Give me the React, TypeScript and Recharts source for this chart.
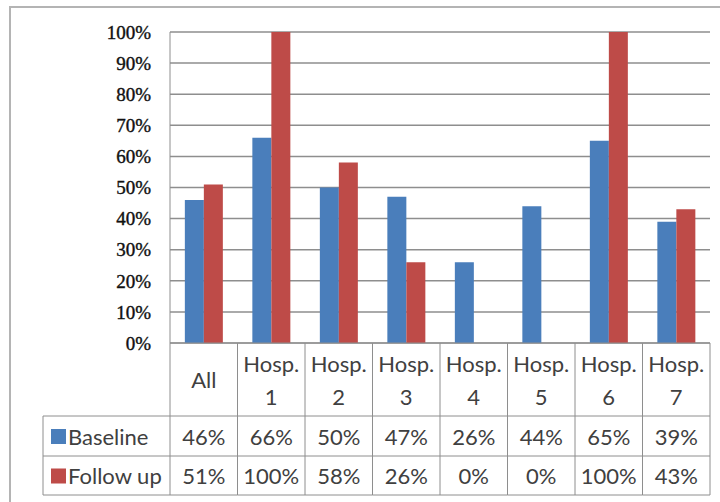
import { Bar, BarChart, CartesianGrid, XAxis, YAxis } from "recharts";

const CATEGORIES = ["All", "Hosp.\n1", "Hosp.\n2", "Hosp.\n3", "Hosp.\n4", "Hosp.\n5", "Hosp.\n6", "Hosp.\n7"];
const BASELINE = [46, 66, 50, 47, 26, 44, 65, 39];
const FOLLOW_UP = [51, 100, 58, 26, 0, 0, 100, 43];
const Y_TICKS = [0, 10, 20, 30, 40, 50, 60, 70, 80, 90, 100];

const BLUE = "#4a7ebb";
const RED = "#be4b48";
const LINE = "#8e8e8e";
const TEXT = "#404040";
const TABLE_FONT = "Lato, 'Open Sans', sans-serif";

const W = 720;
const H = 502;
const MARGIN = { top: 32, right: 10, left: 0, bottom: 7 };
const Y_AXIS_W = 170;
const X_AXIS_H = 152;
const PLOT_W = W - MARGIN.left - MARGIN.right - Y_AXIS_W;
const HEAD_H = 73;
const ROW1_H = 40;
const LEGEND_W = 127;

const data = CATEGORIES.map((name, i) => ({
  name,
  baseline: BASELINE[i],
  followUp: FOLLOW_UP[i],
}));

function TableTick(props: any) {
  const { x, y, payload, index } = props;
  const bw = PLOT_W / CATEGORIES.length;
  const x0 = x - bw / 2;
  const x1 = x + bw / 2;
  const r1 = y + HEAD_H;
  const r2 = r1 + ROW1_H;
  const r3 = y + X_AXIS_H;
  const lines = String(payload.value).split("\n");
  const i = index as number;
  const textProps = {
    fontFamily: TABLE_FONT,
    fontSize: 22,
    fill: TEXT,
    textAnchor: "middle" as const,
    dominantBaseline: "central" as const,
  };

  return (
    <g>
      {i === 0 && (
        <g>
          <line x1={x0} y1={y} x2={x0} y2={r3} stroke={LINE} />
          <line x1={x0 - LEGEND_W} y1={r1} x2={x0} y2={r1} stroke={LINE} />
          <line x1={x0 - LEGEND_W} y1={r2} x2={x0} y2={r2} stroke={LINE} />
          <line x1={x0 - LEGEND_W} y1={r3} x2={x0} y2={r3} stroke={LINE} />
          <line x1={x0 - LEGEND_W} y1={r1} x2={x0 - LEGEND_W} y2={r3} stroke={LINE} />
          <rect x={x0 - LEGEND_W + 8} y={(r1 + r2) / 2 - 7} width={15} height={15} fill={BLUE} />
          <rect x={x0 - LEGEND_W + 8} y={(r2 + r3) / 2 - 7} width={15} height={15} fill={RED} />
          <text {...textProps} textAnchor="start" x={x0 - LEGEND_W + 25} y={(r1 + r2) / 2}>
            Baseline
          </text>
          <text {...textProps} textAnchor="start" x={x0 - LEGEND_W + 25} y={(r2 + r3) / 2}>
            Follow up
          </text>
        </g>
      )}
      <line x1={x1} y1={y} x2={x1} y2={r3} stroke={LINE} />
      <line x1={x0} y1={r1} x2={x1} y2={r1} stroke={LINE} />
      <line x1={x0} y1={r2} x2={x1} y2={r2} stroke={LINE} />
      <line x1={x0} y1={r3} x2={x1} y2={r3} stroke={LINE} />
      {lines.length === 1 ? (
        <text {...textProps} x={x} y={y + HEAD_H / 2}>
          {lines[0]}
        </text>
      ) : (
        lines.map((t, k) => (
          <text key={k} {...textProps} x={x} y={y + 20 + k * 33}>
            {t}
          </text>
        ))
      )}
      <text {...textProps} x={x} y={(r1 + r2) / 2}>
        {`${BASELINE[i]}%`}
      </text>
      <text {...textProps} x={x} y={(r2 + r3) / 2}>
        {`${FOLLOW_UP[i]}%`}
      </text>
    </g>
  );
}

export default function App() {
  return (
    <div
      style={{
        position: "fixed",
        left: 0,
        top: 0,
        width: W,
        height: H,
        background: "#fff",
      }}
    >
      <div
        style={{
          position: "absolute",
          left: 9,
          top: 6,
          width: W,
          height: H,
          border: "2px solid #b4b4b4",
        }}
      />
      <div style={{ position: "absolute", left: 0, top: 0 }}>
        <BarChart
          width={W}
          height={H}
          data={data}
          margin={MARGIN}
          barCategoryGap="22%"
          barGap={0}
        >
          <CartesianGrid vertical={false} stroke={LINE} strokeWidth={1.5} />
          <XAxis
            dataKey="name"
            height={X_AXIS_H}
            axisLine={{ stroke: LINE }}
            tickLine={false}
            tickSize={0}
            tickMargin={0}
            interval={0}
            tick={<TableTick />}
          />
          <YAxis
            width={Y_AXIS_W}
            domain={[0, 100]}
            ticks={Y_TICKS}
            tickFormatter={(v) => `${v}%`}
            axisLine={{ stroke: LINE }}
            tickLine={false}
            tickSize={0}
            tickMargin={19}
            tick={{
              fontFamily: "'Liberation Serif', serif",
              fontSize: 19,
              fill: "#111",
              stroke: "#111",
              strokeWidth: 0.4,
            }}
          />
          <Bar dataKey="baseline" fill={BLUE} isAnimationActive={false} />
          <Bar dataKey="followUp" fill={RED} isAnimationActive={false} />
        </BarChart>
      </div>
    </div>
  );
}
